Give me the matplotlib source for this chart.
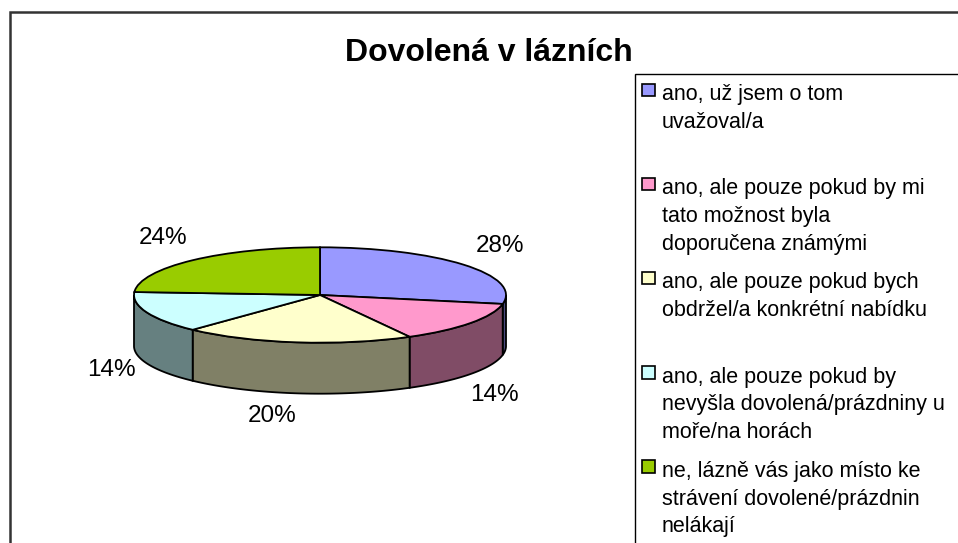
import matplotlib.pyplot as plt
from matplotlib.patches import Polygon, Rectangle
import numpy as np

plt.rcParams['font.family'] = ['Liberation Sans', 'DejaVu Sans']

title = "Dovolená v lázních"
shares = [28, 14, 20, 14, 24]
legend_lines = [
    ["ano, už jsem o tom", "uvažoval/a"],
    ["ano, ale pouze pokud by mi", "tato možnost byla", "doporučena známými"],
    ["ano, ale pouze pokud bych", "obdržel/a konkrétní nabídku"],
    ["ano, ale pouze pokud by", "nevyšla dovolená/prázdniny u", "moře/na horách"],
    ["ne, lázně vás jako místo ke", "strávení dovolené/prázdnin", "nelákají"],
]
top_colors = ["#9999FF", "#FF99CC", "#FFFFCC", "#CCFFFF", "#99CC00"]
side_colors = ["#4C4C80", "#804C66", "#808066", "#668080", "#4C6600"]
# small pixel nudges for the percent labels (Excel's own placement)
label_nudge = [(5, -2), (-9, 6), (-19, -3), (2, -3), (-2, -3)]

W, H = 958, 543
fig = plt.figure(figsize=(W / 100, H / 100), dpi=100)

# page layer, in pixels from the top left
page = fig.add_axes([0, 0, 1, 1])
page.set_xlim(0, W)
page.set_ylim(H, 0)
page.axis('off')

# outer chart frame (only left and top edges are in view)
page.plot([10, 10, W], [H, 11.5, 11.5], color='#333333', lw=1.8, solid_joinstyle='miter')
page.text(489, 61, title, ha='center', va='baseline', fontsize=23, fontweight='bold')

# pie layer: unit circle squashed into an ellipse
cx, cy, rx, ry, depth = 320, 295, 186, 47.7, 51
pie_ax = fig.add_axes([0, 0, 1, 1])
pie_ax.patch.set_alpha(0)
wedges, _ = pie_ax.pie(shares, startangle=90, counterclock=False, colors=top_colors,
                       wedgeprops=dict(edgecolor='black', linewidth=1.3))
pie_ax.set_aspect('auto')
pie_ax.set_xlim(-cx / rx, (W - cx) / rx)
pie_ax.set_ylim(-(H - cy) / ry, cy / ry)
pie_ax.axis('off')

d = depth / ry
for w, sc, val, (nx, ny) in zip(wedges, side_colors, shares, label_nudge):
    t1, t2 = w.theta1, w.theta2
    # front (visible) part of the rim
    for k in (-1, 0, 1):
        a = max(t1, -180 + 360 * k)
        b = min(t2, 360 * k)
        if b - a <= 0:
            continue
        t = np.radians(np.linspace(a, b, 60))
        xs = np.concatenate([np.cos(t), np.cos(t[::-1])])
        ys = np.concatenate([np.sin(t), np.sin(t[::-1]) - d])
        pie_ax.add_patch(Polygon(np.column_stack([xs, ys]), closed=True, facecolor=sc,
                                 edgecolor='black', linewidth=1.3, zorder=0.5))
    mid = np.radians((t1 + t2) / 2)
    lx = 1.22 * np.cos(mid) + nx / rx
    ly = 1.55 * np.sin(mid) - ny / ry
    if np.sin(mid) < 0:
        ly -= d
    pie_ax.text(lx, ly, f"{val}%", ha='center', va='center', fontsize=17.5)

# legend, drawn by hand to keep Excel's slot layout
page.add_patch(Rectangle((635, 73.5), W, H, facecolor='white', edgecolor='black', lw=1))
first_base, slot, line_gap = 100, 94.2, 27.7
for i, (lines, c) in enumerate(zip(legend_lines, top_colors)):
    base = first_base + i * slot
    page.add_patch(Rectangle((642, base - 16.5), 13, 12.5, facecolor=c,
                             edgecolor='black', lw=1.2))
    for j, line in enumerate(lines):
        page.text(662, base + j * line_gap, line, ha='left', va='baseline', fontsize=15.5)

fig.savefig('out.png', dpi=100)
